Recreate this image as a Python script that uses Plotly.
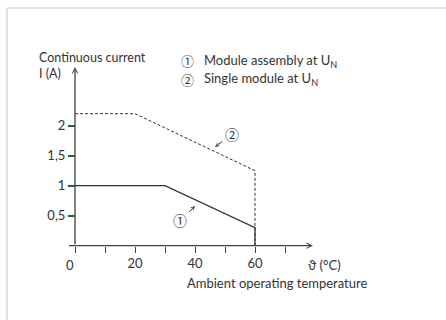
import plotly.graph_objects as go

# Derating curves: continuous current vs ambient temperature
temps_assembly = [0, 30, 60, 60]
current_assembly = [1.0, 1.0, 0.3, 0.0]

temps_single = [0, 20, 60, 60]
current_single = [2.2, 2.2, 1.25, 0.0]

x_ticks = [0, 10, 20, 30, 40, 50, 60, 70]
x_tick_text = ["", "", "20", "", "40", "", "60", ""]
y_ticks = [0.5, 1.0, 1.5, 2.0]
y_tick_text = ["0,5", "1", "1,5", "2"]

W, H = 446, 320
X0_PX, X_SCALE = 75, 3.0      # pixel of 0 °C, pixels per °C
Y0_PX, Y_SCALE = 245.7, 60.0  # pixel of 0 A, pixels per A

FONT = "Lato"
CIRCLE_FONT = "Noto Sans CJK JP"
INK = "#333333"
AXIS = "#3a433e"

fig = go.Figure()

fig.add_trace(go.Scatter(
    x=temps_single, y=current_single, mode="lines",
    line=dict(color=INK, width=1, dash="3px,2px"), hoverinfo="skip"))
fig.add_trace(go.Scatter(
    x=temps_assembly, y=current_assembly, mode="lines",
    line=dict(color=INK, width=1.3), hoverinfo="skip"))

ann = []
# axis arrows
ann.append(dict(x=0, y=2.98, ax=0, ay=0, xref="x", yref="y", axref="x", ayref="y",
                text="", showarrow=True, arrowhead=5, arrowsize=0.8,
                arrowwidth=1.3, arrowcolor=AXIS))
ann.append(dict(x=79.3, y=0, ax=-2.5, ay=0, xref="x", yref="y", axref="x", ayref="y",
                text="", showarrow=True, arrowhead=5, arrowsize=0.8,
                arrowwidth=1.3, arrowcolor=AXIS))


def px_to_x(px):
    return (px - X0_PX) / X_SCALE


def px_to_y(py):
    return (Y0_PX - py) / Y_SCALE


def label(x, y, text, size=13, xanchor="center", align="center", family=FONT):
    ann.append(dict(x=x, y=y, xref="x", yref="y", text=text, showarrow=False,
                    xanchor=xanchor, yanchor="middle", align=align,
                    font=dict(family=family, size=size, color=INK)))


label(px_to_x(70), px_to_y(265), "0")
label(px_to_x(324), px_to_y(265), "ϑ (°C)")
label(px_to_x(276.5), px_to_y(283), "Ambient operating temperature")
label(px_to_x(37), px_to_y(65.5), "Continuous current<br>I (A)",
      size=12.5, xanchor="left", align="left")

# legend lines: circled marker followed by description
label(px_to_x(179), px_to_y(60.5), "①", size=13, xanchor="left", family=CIRCLE_FONT)
label(px_to_x(179), px_to_y(79.5), "②", size=13, xanchor="left", family=CIRCLE_FONT)
label(px_to_x(202), px_to_y(61), "Module assembly at U<sub>N</sub>", xanchor="left")
label(px_to_x(202), px_to_y(79), "Single module at U<sub>N</sub>", xanchor="left")

# curve markers with pointer arrows
label(52.3, 1.86, "②", size=14, family=CIRCLE_FONT)
label(35.0, 0.43, "①", size=14, family=CIRCLE_FONT)
ann.append(dict(x=46.7, y=1.645, ax=49.6, ay=1.76, xref="x", yref="y", axref="x", ayref="y",
                text="", showarrow=True, arrowhead=5, arrowsize=0.7,
                arrowwidth=1, arrowcolor=INK))
ann.append(dict(x=40.0, y=0.66, ax=37.6, ay=0.54, xref="x", yref="y", axref="x", ayref="y",
                text="", showarrow=True, arrowhead=5, arrowsize=0.7,
                arrowwidth=1, arrowcolor=INK))

shapes = [
    dict(type="line", xref="paper", yref="paper", x0=7 / W, x1=1, y0=1 - 8 / H, y1=1 - 8 / H,
         line=dict(color="#e4e0dc", width=2)),
    dict(type="line", xref="paper", yref="paper", x0=7 / W, x1=7 / W, y0=0, y1=1 - 8 / H,
         line=dict(color="#e4e0dc", width=2)),
]

fig.update_layout(
    width=W, height=H,
    margin=dict(l=0, r=0, t=0, b=0),
    paper_bgcolor="white", plot_bgcolor="white",
    showlegend=False,
    annotations=ann, shapes=shapes,
    xaxis=dict(
        range=[px_to_x(0), px_to_x(W)], domain=[0, 1],
        anchor="free", position=(H - Y0_PX) / H,
        showgrid=False, zeroline=False, showline=False,
        tickmode="array", tickvals=x_ticks, ticktext=x_tick_text,
        ticks="outside", ticklen=6, tickwidth=1.3, tickcolor=AXIS,
        tickfont=dict(family=FONT, size=13, color=INK),
    ),
    yaxis=dict(
        range=[px_to_y(H), px_to_y(0)], domain=[0, 1],
        anchor="free", position=X0_PX / W,
        showgrid=False, zeroline=False, showline=False,
        tickmode="array", tickvals=y_ticks, ticktext=y_tick_text,
        ticks="outside", ticklen=7, tickwidth=1.5, tickcolor="#2e5a40",
        tickfont=dict(family=FONT, size=13, color=INK),
    ),
)

fig.write_html("out.html")
